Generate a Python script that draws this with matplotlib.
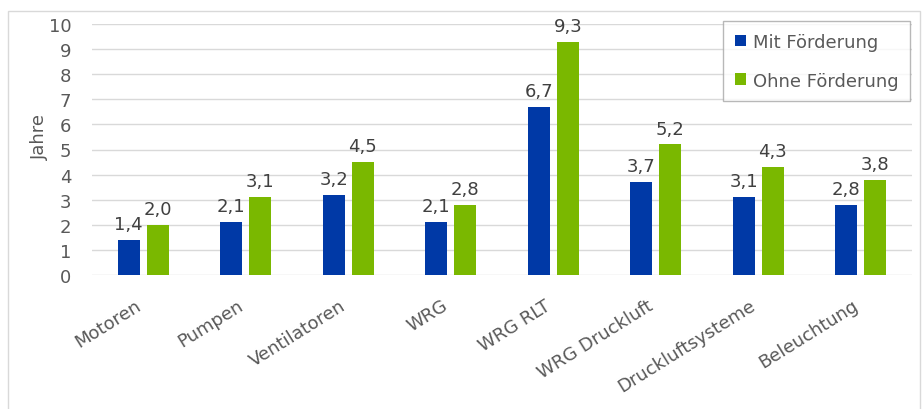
import numpy as np
import matplotlib.pyplot as plt
import matplotlib.transforms as mtransforms
from matplotlib.patches import Rectangle

# Amortisationszeiten in Jahren
kategorien = ['Motoren', 'Pumpen', 'Ventilatoren', 'WRG', 'WRG RLT',
              'WRG Druckluft', 'Druckluftsysteme', 'Beleuchtung']
mit_foerderung = [1.4, 2.1, 3.2, 2.1, 6.7, 3.7, 3.1, 2.8]
ohne_foerderung = [2.0, 3.1, 4.5, 2.8, 9.3, 5.2, 4.3, 3.8]

blau = '#0039A6'
gruen = '#7AB800'
text_grau = '#595959'
fs = 13

plt.rcParams['font.family'] = ['DejaVu Sans']

fig = plt.figure(figsize=(9.23, 4.1), dpi=100)
ax = fig.add_axes([92 / 923, 134 / 410, 820 / 923, 251 / 410])

# Rahmen um das gesamte Diagramm
fig.patches.append(Rectangle((8 / 923, -0.01), 912 / 923, 402 / 410,
                             transform=fig.transFigure, fill=False,
                             edgecolor='#D9D9D9', linewidth=1))

x = np.arange(len(kategorien))
breite = 0.215
versatz = 0.143

b1 = ax.bar(x - versatz, mit_foerderung, breite, color=blau, label='Mit Förderung', zorder=3)
b2 = ax.bar(x + versatz, ohne_foerderung, breite, color=gruen, label='Ohne Förderung', zorder=3)

for balken, werte in ((b1, mit_foerderung), (b2, ohne_foerderung)):
    for rect, w in zip(balken, werte):
        ax.annotate(f'{w:.1f}'.replace('.', ','),
                    (rect.get_x() + rect.get_width() / 2, w),
                    xytext=(0, 5), textcoords='offset points',
                    ha='center', va='bottom', fontsize=fs, color='#404040')

ax.set_xlim(-0.5, len(kategorien) - 0.5)
ax.set_ylim(0, 10)
ax.set_yticks(range(0, 11))
ax.yaxis.grid(True, color='#D9D9D9', linewidth=1, zorder=0)
ax.set_axisbelow(True)
for s in ax.spines.values():
    s.set_visible(False)
ax.tick_params(axis='both', length=0, labelsize=fs, labelcolor=text_grau)
ax.tick_params(axis='y', pad=15)
ax.set_xticks(x)
ax.set_xticklabels(kategorien, rotation=32, ha='right', rotation_mode='anchor')
ax.tick_params(axis='x', pad=15)
verschiebung = mtransforms.ScaledTranslation(-9 / 100, 0, fig.dpi_scale_trans)
for lbl in ax.get_xticklabels():
    lbl.set_transform(lbl.get_transform() + verschiebung)

fig.text(40 / 923, 1 - 137 / 410, 'Jahre', rotation=90, ha='center', va='center',
         fontsize=fs, color=text_grau)

leg = ax.legend(loc='upper left', bbox_to_anchor=(723 / 923, 388 / 410),
                bbox_transform=fig.transFigure, fontsize=fs, frameon=True,
                fancybox=False, edgecolor='#A6A6A6', handlelength=0.6,
                handleheight=0.6, handletextpad=0.4, labelspacing=1.15,
                borderpad=0.65, borderaxespad=0)
leg.get_frame().set_linewidth(1)
for t in leg.get_texts():
    t.set_color(text_grau)

fig.savefig('out.png', dpi=100)
